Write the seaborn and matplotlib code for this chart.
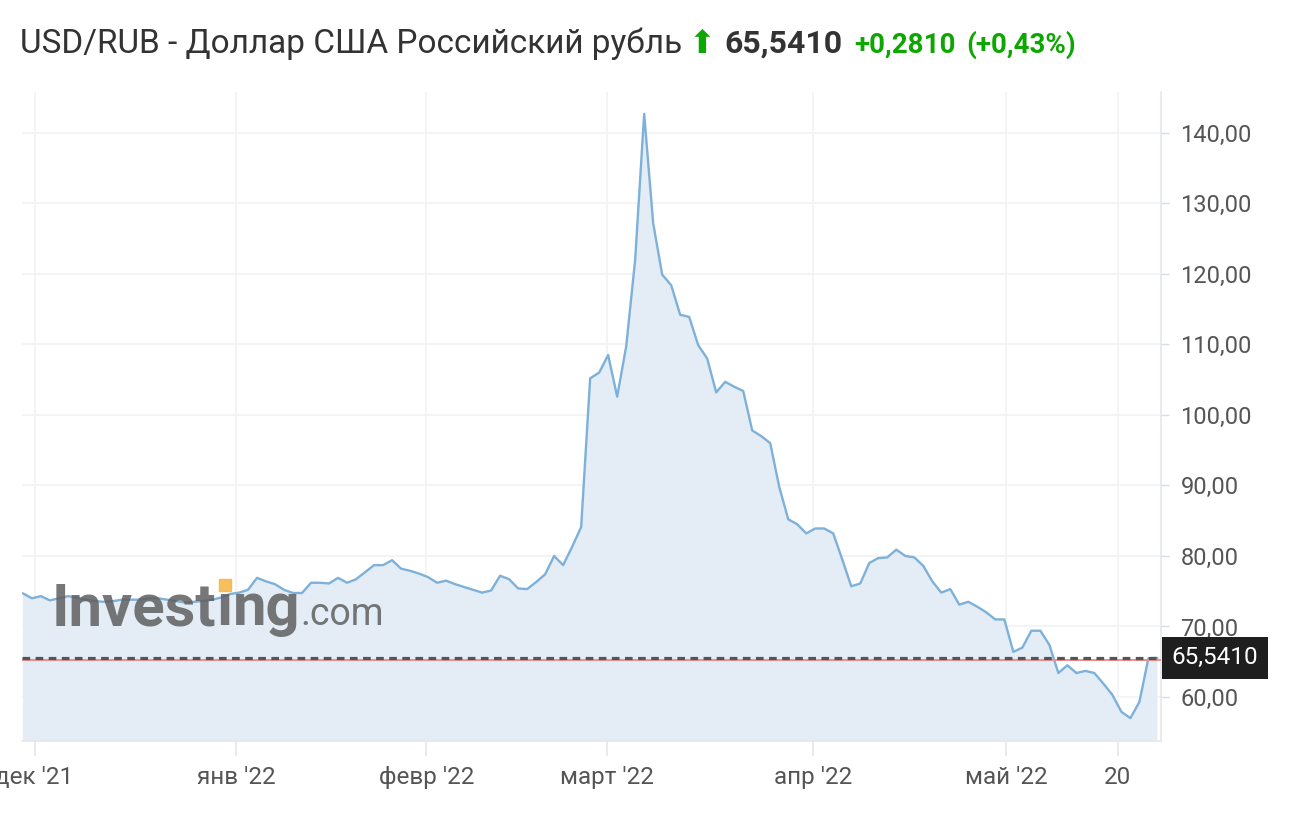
import numpy as np
import pandas as pd
import matplotlib
matplotlib.use("Agg")
import matplotlib.pyplot as plt
import matplotlib.transforms as mtransforms
from matplotlib.patches import Rectangle
import seaborn as sns

# USD/RUB daily close, one value per trading day
usd_rub = [
    74.7, 74.0, 74.3, 73.7, 74.0, 74.3, 74.1, 73.8, 73.6, 73.5,
    73.6, 73.8, 73.8, 73.8, 74.0, 74.0, 73.8, 73.6, 73.4, 73.5,
    73.6, 73.8, 74.1, 74.6, 74.8, 75.2, 76.9, 76.4, 76.0, 75.2,
    74.75, 74.75, 76.2, 76.2, 76.1, 76.9, 76.2, 76.7, 77.7, 78.7,
    78.7, 79.4, 78.2, 77.9, 77.5, 77.0, 76.2, 76.5, 76.0, 75.6,
    75.2, 74.8, 75.1, 77.2, 76.7, 75.4, 75.3, 76.3, 77.4, 80.0,
    78.7, 81.3, 84.1, 105.2, 106.0, 108.5, 102.6, 109.7, 122.0, 142.7,
    127.2, 119.9, 118.4, 114.2, 113.9, 109.9, 108.0, 103.2, 104.7, 104.0,
    103.4, 97.8, 97.0, 96.0, 89.8, 85.2, 84.5, 83.2, 83.9, 83.9,
    83.2, 79.5, 75.7, 76.1, 79.0, 79.7, 79.8, 80.9, 80.0, 79.8,
    78.6, 76.4, 74.8, 75.3, 73.1, 73.5, 72.8, 72.0, 71.0, 71.0,
    66.4, 67.0, 69.4, 69.4, 67.4, 63.4, 64.5, 63.4, 63.7, 63.4,
    61.9, 60.3, 57.9, 57.0, 59.3, 65.5, 65.541,
]
last_close = 65.541
prev_close = 65.26
change = "+0,2810"
change_pct = "(+0,43%)"

# month labels and the trading-day index they sit at
month_labels = ["дек '21", "янв '22", "февр '22", "март '22", "апр '22", "май '22", "20"]
month_ticks = [1.3, 23.7, 44.8, 64.9, 87.8, 109.2, 121.6]
y_ticks = [60, 70, 80, 90, 100, 110, 120, 130, 140]

title = "USD/RUB - Доллар США Российский рубль"

GREEN = "#0ea600"
TEXT = "#333333"
GREY = "#555555"
LINE = "#7db1da"
FILL = "#e4edf5"
GRID = "#f0f2f5"

sns.set_theme(style="white")
plt.rcParams["font.family"] = ["Roboto", "DejaVu Sans"]

W, H = 1300, 830
fig = plt.figure(figsize=(W / 100, H / 100), dpi=100)
ax = fig.add_axes([22 / W, 89 / H, 1139 / W, 649 / H])

df = pd.DataFrame({"day": np.arange(len(usd_rub)), "close": usd_rub})

ax.fill_between(df["day"], df["close"], 0, color=FILL, lw=0, zorder=1)
sns.lineplot(data=df, x="day", y="close", ax=ax, color=LINE, linewidth=1.7, zorder=3)

# previous close (red) and last price (dashed)
ax.axhline(prev_close, color="#f08c8c", lw=1.4, zorder=4)
ax.axhline(last_close, color="#555555", lw=2.3, dashes=(2.4, 1.7), zorder=4)

ax.set_xlim(-0.1, 126.4)
ax.set_ylim(53.76, 145.8)
ax.set_xlabel("")
ax.set_ylabel("")

ax.yaxis.tick_right()
ax.set_yticks(y_ticks)
ax.set_yticklabels([f"{v:.2f}".replace(".", ",") for v in y_ticks])
ax.set_xticks(month_ticks)
ax.set_xticklabels(month_labels)

ax.grid(True, color=GRID, lw=1.2, zorder=0)
ax.set_axisbelow(True)
ax.tick_params(axis="y", right=True, length=6, width=1, color="#d8dde4",
               pad=8, labelsize=17, labelcolor=GREY)
ax.tick_params(axis="x", bottom=True, length=11, width=1.2, color="#e3e7ec",
               pad=7, labelsize=17.5, labelcolor=GREY)
for side in ["left", "top"]:
    ax.spines[side].set_visible(False)
for side in ["right", "bottom"]:
    ax.spines[side].set_color("#e3e7ec")
    ax.spines[side].set_linewidth(1.2)

# last price tag on the axis
tr = mtransforms.blended_transform_factory(ax.transAxes, ax.transData)
ax.annotate(f"{last_close:.4f}".replace(".", ","), xy=(1.0, last_close), xycoords=tr,
            xytext=(7.5, 0), textcoords="offset points", ha="left", va="center",
            fontsize=17.5, color="white", annotation_clip=False,
            bbox=dict(boxstyle="square,pad=0.4", fc="#1e1e1e", ec="none"))

# header line, pieces laid out one after another
renderer = fig.canvas.get_renderer()
base_y = (H - 53) / H


def chain(x_px, y, parts):
    out = []
    for s, gap, kw in parts:
        t = fig.text(x_px / W, y, s, va="baseline", ha="left", **kw)
        bb = t.get_window_extent(renderer)
        out.append(bb)
        x_px = bb.x1 + gap
    return out


chain(20, base_y, [
    (title, 6, dict(fontsize=24, color=TEXT)),
    ("⬆", 9, dict(fontsize=23, color=GREEN, family=["DejaVu Sans"])),
    (f"{last_close:.4f}".replace(".", ","), 12, dict(fontsize=23, color=TEXT, fontweight="bold")),
    (change, 11, dict(fontsize=20, color=GREEN, fontweight="bold")),
    (change_pct, 0, dict(fontsize=20, color=GREEN, fontweight="bold")),
])

# Investing.com watermark
wm_y = (H - 625) / H
wm = dict(color="#5f5f5f", alpha=0.85, zorder=5)
boxes = chain(52, wm_y, [
    ("Invest", 0, dict(fontsize=43, fontweight="bold", **wm)),
    ("ı", 0, dict(fontsize=43, fontweight="bold", **wm)),
    ("ng", 0, dict(fontsize=43, fontweight="bold", **wm)),
    (".com", 0, dict(fontsize=27, **wm)),
])
dot = boxes[1]
cx = (dot.x0 + dot.x1) / 2
fig.patches.append(Rectangle(((cx - 6) / W, (H - 591) / H), 12 / W, 12 / H,
                             transform=fig.transFigure, color="#f7b84b",
                             alpha=0.9, zorder=6))

fig.savefig("out.png", dpi=100)
